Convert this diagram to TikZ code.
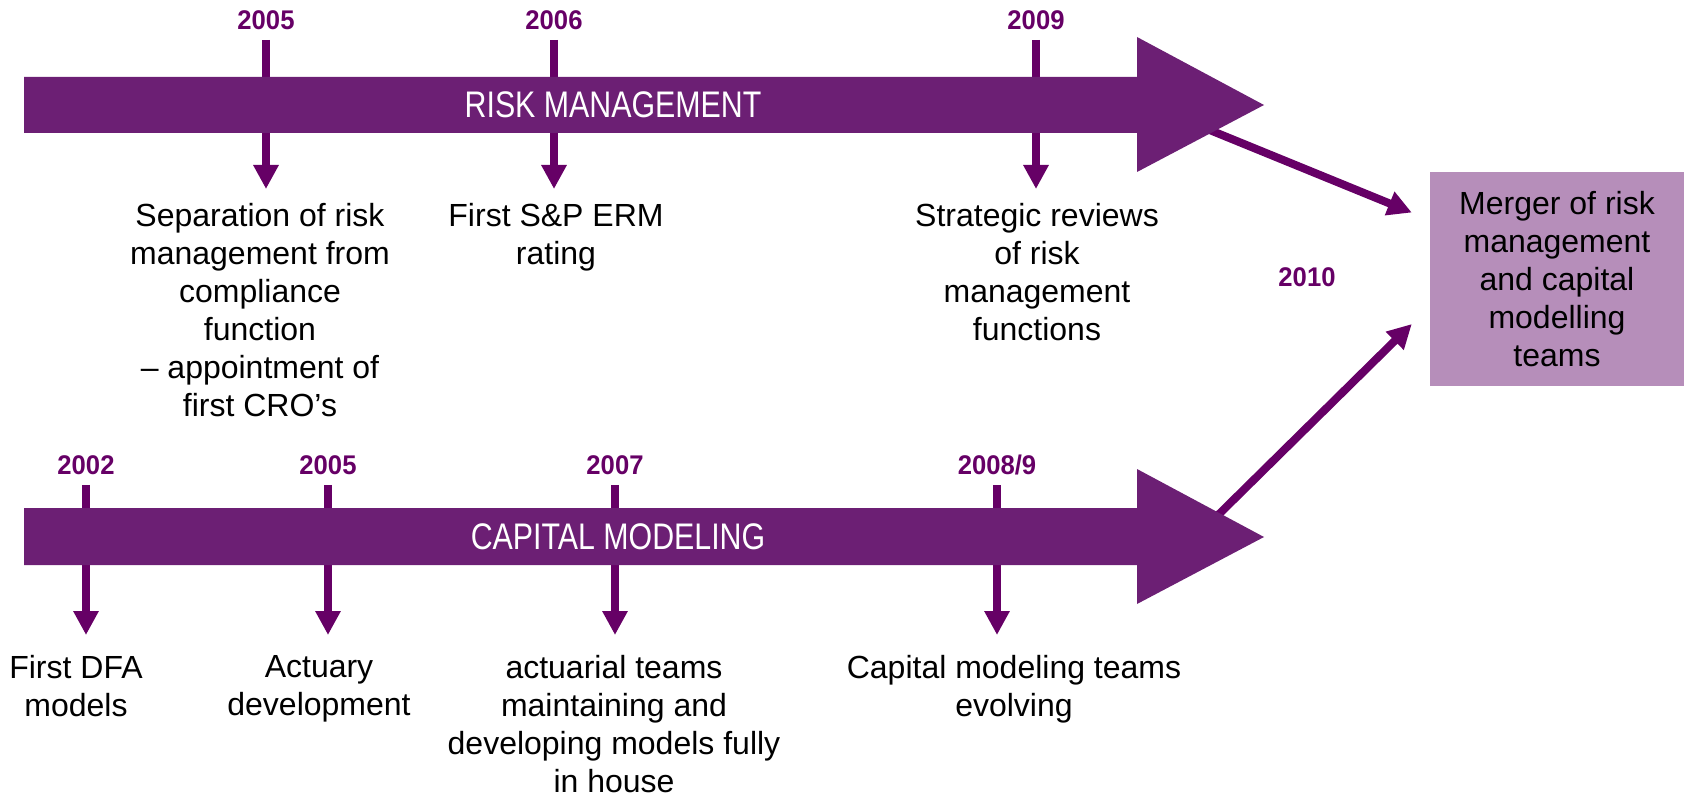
\documentclass[tikz,border=0pt]{standalone}
\usepackage{fontspec}
\setmainfont{Liberation Sans}
\newfontfamily\narrowfont[FakeStretch=0.82]{Liberation Sans}
\newfontfamily\yearfont[FakeStretch=0.95]{Liberation Sans}
\usetikzlibrary{arrows.meta,calc}
\definecolor{band}{RGB}{108,31,116}
\definecolor{tickc}{RGB}{102,0,102}
\definecolor{boxc}{RGB}{182,142,186}
\begin{document}
\begin{tikzpicture}[x=1pt,y=-1pt,
  yr/.style={text=tickc,inner sep=0pt,font=\yearfont\bfseries\fontsize{27}{30}\selectfont},
  desc/.style={align=center,anchor=north,inner sep=0pt,font=\fontsize{32}{38}\selectfont},
  tick/.style={tickc,line width=8pt,-{Triangle[length=24pt,width=24pt]}},
  bandlabel/.style={text=white,font=\narrowfont\fontsize{37}{40}\selectfont}]
\useasboundingbox (0,0) rectangle (1686,794);
\node[yr] (y05) at (266,20) {2005};
\node[yr] (y06) at (554,20) {2006};
\node[yr] (y09) at (1036,20) {2009};
\node[yr] (y02) at (86,465) {2002};
\node[yr] (y05b) at (328,465) {2005};
\node[yr] (y07) at (615,465) {2007};
\node[yr] (y089) at (997,465) {2008/9};
\node[yr] (y10) at (1307,277) {2010};
\node[desc] (d05) at (260,203) {Separation of risk\\management from\\compliance\\function\\– appointment of\\first CRO’s};
\node[desc] (d06) at (556,203) {First S\&P ERM\\rating};
\node[desc] (d09) at (1037,203) {Strategic reviews\\of risk\\management\\functions};
\node[desc] (d02) at (76,655) {First DFA\\models};
\node[desc] (d05b) at (319,655) {Actuary\\development};
\node[desc] (d07) at (614,655) {actuarial teams\\maintaining and\\developing models fully\\in house};
\node[desc] (d089) at (1014,655) {Capital modeling teams\\evolving};
\node[fill=boxc,minimum width=254pt,minimum height=214pt,align=center,font=\fontsize{32}{38}\selectfont] (merger) at (1557,279) {Merger of risk\\management\\and capital\\modelling\\teams};
\draw[tick,shorten <=10pt,shorten >=14pt] (y05.south) -- (y05.south |- d05.north);
\draw[tick,shorten <=10pt,shorten >=14pt] (y06.south) -- (y06.south |- d06.north);
\draw[tick,shorten <=10pt,shorten >=14pt] (y09.south) -- (y09.south |- d09.north);
\draw[tick,shorten <=10pt,shorten >=20pt] (y02.south) -- (y02.south |- d02.north);
\draw[tick,shorten <=10pt,shorten >=20pt] (y05b.south) -- (y05b.south |- d05b.north);
\draw[tick,shorten <=10pt,shorten >=20pt] (y07.south) -- (y07.south |- d07.north);
\draw[tick,shorten <=10pt,shorten >=20pt] (y089.south) -- (y089.south |- d089.north);
\coordinate (rmOut) at (1195,124);
\coordinate (cmOut) at (1210,523);
\draw[tick] (rmOut) -- ($(merger.north west)!0.19!(merger.south west)+(-18,0)$);
\draw[tick] (cmOut) -- ($(merger.north west)!0.71!(merger.south west)+(-18,0)$);
\fill[band] (24,77) -- (1137,77) -- (1137,37) -- (1264,105) -- (1137,172) -- (1137,133) -- (24,133) -- cycle;
\fill[band] (24,508) -- (1137,508) -- (1137,469) -- (1264,537) -- (1137,604) -- (1137,565) -- (24,565) -- cycle;
\node[bandlabel] (rm) at (613,105) {RISK MANAGEMENT};
\node[bandlabel] (cm) at (618,537) {CAPITAL MODELING};
\end{tikzpicture}
\end{document}
